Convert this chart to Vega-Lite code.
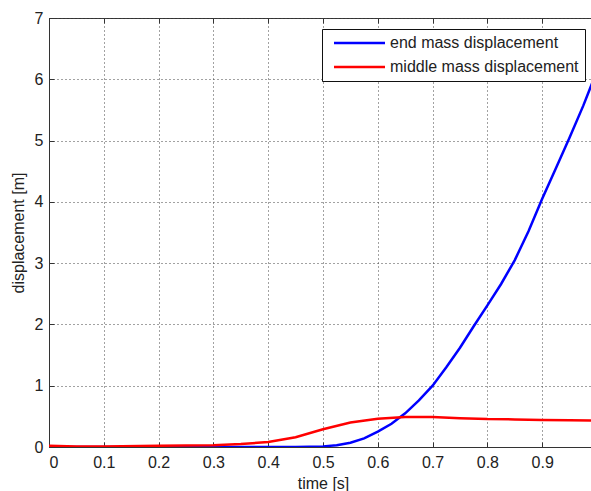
{
  "$schema": "https://vega.github.io/schema/vega-lite/v6.json",
  "width": 548,
  "height": 429,
  "autosize": "none",
  "padding": {"left": 49, "top": 18, "right": 0, "bottom": 44},
  "background": "white",
  "config": {
    "font": "Liberation Sans",
    "view": {"stroke": "#333", "strokeWidth": 1},
    "axis": {
      "labelFont": "Liberation Sans",
      "titleFont": "Liberation Sans",
      "labelFontSize": 16,
      "titleFontSize": 16,
      "labelColor": "#222",
      "titleColor": "#222",
      "titleFontWeight": "normal",
      "domainColor": "#333",
      "tickColor": "#333",
      "gridColor": "#444",
      "gridDash": [1, 3],
      "gridOpacity": 1,
      "gridWidth": 1
    }
  },
  "data": {
    "values": [
      {"t": 0.0, "d": 0.0, "s": "end mass displacement"},
      {"t": 0.1, "d": 0.0, "s": "end mass displacement"},
      {"t": 0.2, "d": 0.0, "s": "end mass displacement"},
      {"t": 0.3, "d": 0.0, "s": "end mass displacement"},
      {"t": 0.4, "d": 0.0, "s": "end mass displacement"},
      {"t": 0.45, "d": 0.002, "s": "end mass displacement"},
      {"t": 0.5, "d": 0.01, "s": "end mass displacement"},
      {"t": 0.525, "d": 0.03, "s": "end mass displacement"},
      {"t": 0.55, "d": 0.07, "s": "end mass displacement"},
      {"t": 0.575, "d": 0.14, "s": "end mass displacement"},
      {"t": 0.6, "d": 0.25, "s": "end mass displacement"},
      {"t": 0.625, "d": 0.38, "s": "end mass displacement"},
      {"t": 0.65, "d": 0.55, "s": "end mass displacement"},
      {"t": 0.675, "d": 0.76, "s": "end mass displacement"},
      {"t": 0.7, "d": 1.0, "s": "end mass displacement"},
      {"t": 0.725, "d": 1.3, "s": "end mass displacement"},
      {"t": 0.75, "d": 1.62, "s": "end mass displacement"},
      {"t": 0.775, "d": 1.97, "s": "end mass displacement"},
      {"t": 0.8, "d": 2.31, "s": "end mass displacement"},
      {"t": 0.825, "d": 2.66, "s": "end mass displacement"},
      {"t": 0.85, "d": 3.05, "s": "end mass displacement"},
      {"t": 0.875, "d": 3.52, "s": "end mass displacement"},
      {"t": 0.9, "d": 4.05, "s": "end mass displacement"},
      {"t": 0.925, "d": 4.55, "s": "end mass displacement"},
      {"t": 0.95, "d": 5.05, "s": "end mass displacement"},
      {"t": 0.975, "d": 5.57, "s": "end mass displacement"},
      {"t": 1.0, "d": 6.14, "s": "end mass displacement"},
      {"t": 0.0, "d": 0.02, "s": "middle mass displacement"},
      {"t": 0.05, "d": 0.01, "s": "middle mass displacement"},
      {"t": 0.1, "d": 0.01, "s": "middle mass displacement"},
      {"t": 0.2, "d": 0.02, "s": "middle mass displacement"},
      {"t": 0.25, "d": 0.025, "s": "middle mass displacement"},
      {"t": 0.3, "d": 0.03, "s": "middle mass displacement"},
      {"t": 0.35, "d": 0.05, "s": "middle mass displacement"},
      {"t": 0.4, "d": 0.08, "s": "middle mass displacement"},
      {"t": 0.45, "d": 0.16, "s": "middle mass displacement"},
      {"t": 0.5, "d": 0.29, "s": "middle mass displacement"},
      {"t": 0.55, "d": 0.4, "s": "middle mass displacement"},
      {"t": 0.6, "d": 0.46, "s": "middle mass displacement"},
      {"t": 0.65, "d": 0.49, "s": "middle mass displacement"},
      {"t": 0.7, "d": 0.49, "s": "middle mass displacement"},
      {"t": 0.75, "d": 0.47, "s": "middle mass displacement"},
      {"t": 0.8, "d": 0.455, "s": "middle mass displacement"},
      {"t": 0.85, "d": 0.45, "s": "middle mass displacement"},
      {"t": 0.9, "d": 0.44, "s": "middle mass displacement"},
      {"t": 0.95, "d": 0.435, "s": "middle mass displacement"},
      {"t": 1.0, "d": 0.43, "s": "middle mass displacement"}
    ]
  },
  "resolve": {"axis": {"x": "independent"}},
  "layer": [
    {
      "mark": {"type": "line", "strokeOpacity": 0},
      "encoding": {
        "x": {
          "field": "t", "type": "quantitative",
          "scale": {"domain": [0, 1], "nice": false},
          "axis": {
            "orient": "top",
            "title": null,
            "labels": false,
            "domain": false,
            "grid": false,
            "values": [0, 0.1, 0.2, 0.3, 0.4, 0.5, 0.6, 0.7, 0.8, 0.9],
            "tickSize": -5
          }
        },
        "y": {"field": "d", "type": "quantitative"}
      }
    },
    {
      "mark": {"type": "line", "strokeWidth": 2.5, "clip": true},
      "encoding": {
        "x": {
          "field": "t", "type": "quantitative",
          "scale": {"domain": [0, 1], "nice": false},
          "axis": {
            "title": "time [s]",
            "format": "~g",
            "values": [0, 0.1, 0.2, 0.3, 0.4, 0.5, 0.6, 0.7, 0.8, 0.9],
            "tickSize": -5,
            "labelPadding": 12,
            "titlePadding": 5,
            "grid": true
          }
        },
        "y": {
          "field": "d", "type": "quantitative",
          "scale": {"domain": [0, 7], "nice": false},
          "axis": {
            "title": "displacement [m]",
            "format": "d",
            "values": [0, 1, 2, 3, 4, 5, 6, 7],
            "tickSize": -5,
            "labelPadding": 11,
            "titlePadding": 8,
            "grid": true
          }
        },
        "color": {
          "field": "s", "type": "nominal",
          "scale": {"domain": ["end mass displacement", "middle mass displacement"], "range": ["#0000ff", "#ff0000"]},
          "legend": {
            "title": null,
            "orient": "none",
            "legendX": 273,
            "legendY": 11,
            "symbolType": "M-0.4,0H9.8",
            "symbolSize": 100,
            "symbolStrokeWidth": 2.5,
            "labelFontSize": 16,
            "labelFont": "Liberation Sans",
            "labelColor": "#222",
            "labelLimit": 400,
            "labelExpr": "datum.label + '\u00a0'",
            "strokeColor": "#111",
            "fillColor": "white",
            "padding": 6,
            "rowPadding": 8,
            "labelOffset": 46,
            "cornerRadius": 0
          }
        }
      }
    }
  ]
}
